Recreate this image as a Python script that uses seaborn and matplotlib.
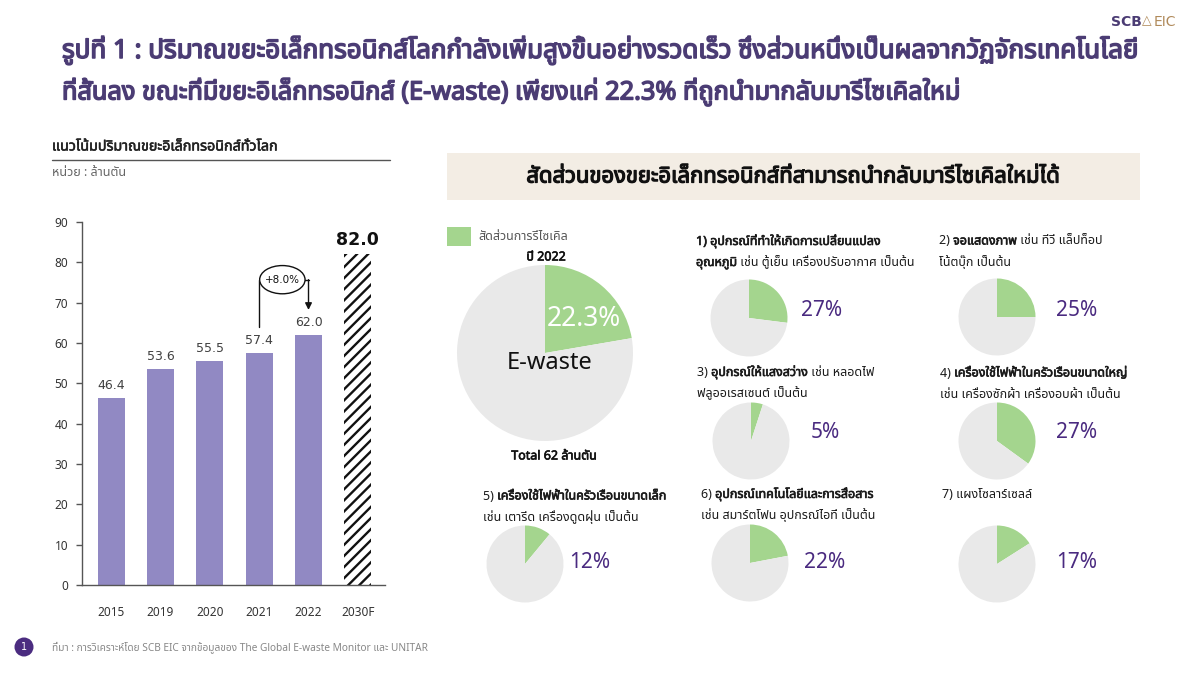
import numpy as np
import pandas as pd
import seaborn as sns
import matplotlib
matplotlib.use("Agg")
import matplotlib.pyplot as plt
import matplotlib.patheffects as pe
from matplotlib import font_manager
from matplotlib.ft2font import FT2Font
from matplotlib.patches import Ellipse, Rectangle
from matplotlib.lines import Line2D

# ---------------- data ----------------
years = ["2015", "2019", "2020", "2021", "2022", "2030F"]
ewaste = [46.4, 53.6, 55.5, 57.4, 62.0, 82.0]
main_share = 22.3
main_total = 62

cat_titles = [
    [[("1) อุปกรณ์ที่ทำให้เกิดการเปลี่ยนแปลง", True)],
     [("อุณหภูมิ", True), (" เช่น ตู้เย็น เครื่องปรับอากาศ เป็นต้น", False)]],
    [[("2) ", False), ("จอแสดงภาพ", True), (" เช่น ทีวี แล็ปท็อป", False)],
     [("โน้ตบุ๊ก เป็นต้น", False)]],
    [[("3) ", False), ("อุปกรณ์ให้แสงสว่าง", True), (" เช่น หลอดไฟ", False)],
     [("ฟลูออเรสเซนต์ เป็นต้น", False)]],
    [[("4) ", False), ("เครื่องใช้ไฟฟ้าในครัวเรือนขนาดใหญ่", True)],
     [("เช่น เครื่องซักผ้า เครื่องอบผ้า เป็นต้น", False)]],
    [[("5) ", False), ("เครื่องใช้ไฟฟ้าในครัวเรือนขนาดเล็ก", True)],
     [("เช่น เตารีด เครื่องดูดฝุ่น เป็นต้น", False)]],
    [[("6) ", False), ("อุปกรณ์เทคโนโลยีและการสื่อสาร", True)],
     [("เช่น สมาร์ตโฟน อุปกรณ์ไอที เป็นต้น", False)]],
    [[("7) แผงโซลาร์เซลล์", False)]],
]
cat_labels = ["27%", "25%", "5%", "27%", "12%", "22%", "17%"]
cat_shares = [27, 25, 5, 35, 11, 22, 16]   # wedge sizes as drawn

title_lines = ["รูปที่ 1 : ปริมาณขยะอิเล็กทรอนิกส์โลกกำลังเพิ่มสูงขึ้นอย่างรวดเร็ว ซึ่งส่วนหนึ่งเป็นผลจากวัฏจักรเทคโนโลยี",
               "ที่สั้นลง ขณะที่มีขยะอิเล็กทรอนิกส์ (E-waste) เพียงแค่ 22.3% ที่ถูกนำมากลับมารีไซเคิลใหม่"]
left_title = "แนวโน้มปริมาณขยะอิเล็กทรอนิกส์ทั่วโลก"
left_unit = "หน่วย : ล้านตัน"
right_header = "สัดส่วนของขยะอิเล็กทรอนิกส์ที่สามารถนำกลับมารีไซเคิลใหม่ได้"
legend_label = "สัดส่วนการรีไซเคิล"
source_text = "ที่มา : การวิเคราะห์โดย SCB EIC จากข้อมูลของ The Global E-waste Monitor และ UNITAR"

# ---------------- fonts ----------------
def find_thai_family():
    prefs = ["Noto Sans Thai", "Noto Sans Thai UI", "Sarabun", "Kanit", "Prompt",
             "Loma", "Garuda", "Waree", "Umpush", "Kinnari", "Norasi", "Tlwg Typo"]
    found = []
    for f in font_manager.fontManager.ttflist:
        try:
            cm = FT2Font(f.fname).get_charmap()
            if 0x0E01 in cm and 0x0E33 in cm and 0x0E48 in cm:
                found.append(f.name)
        except Exception:
            pass
    for p in prefs:
        if p in found:
            return p
    return found[0] if found else None

sns.set_theme(style="white")
thai = find_thai_family()
fam = ([thai] if thai else []) + ["DejaVu Sans"]
plt.rcParams["font.family"] = fam
plt.rcParams["hatch.linewidth"] = 1.7

W, H = 1200, 675
fig = plt.figure(figsize=(12, 6.75), dpi=100, facecolor="white")
renderer = fig.canvas.get_renderer()

PURPLE = "#4B3C74"
PCT = "#4A2A80"
BAR = "#9189C3"
GREEN = "#A4D58E"
GREY = "#E9E9E9"

def fx(x):
    return x / W

def fy(y):
    return 1 - y / H

def bold_fx(color, w=0.9):
    return [pe.withStroke(linewidth=w, foreground=color)]

def txt(x, y, s, bold=False, bw=0.9, **kw):
    kw.setdefault("va", "center")
    t = fig.text(fx(x), fy(y), s, **kw)
    if bold:
        t.set_fontweight("bold")
        t.set_path_effects(bold_fx(kw.get("color", "black"), bw))
    return t

def fit(x, y, s, target_w, size0, **kw):
    t = txt(x, y, s, fontsize=size0, **kw)
    w = t.get_window_extent(renderer).width
    if w > 0:
        t.set_fontsize(float(np.clip(size0 * target_w / w, size0 * 0.7, size0 * 1.35)))
    return t

def segs(x, y, parts, size, color="#1a1a1a"):
    cur = x
    for s, b in parts:
        t = txt(cur, y, s, bold=b, bw=0.45, fontsize=size, color=color, ha="left")
        cur += t.get_window_extent(renderer).width

# ---------------- title / logo ----------------
fit(62, 50, title_lines[0], 1075, 19, color=PURPLE, bold=True, bw=1.1)
fit(62, 92, title_lines[1], 898, 19, color=PURPLE, bold=True, bw=1.1)
txt(1111, 22, "SCB", fontsize=10, color=PURPLE, fontweight="bold", family="DejaVu Sans")
txt(1142, 21, "△", fontsize=9, color="#B08A5A", family="DejaVu Sans")
txt(1154, 22, "EIC", fontsize=10, color="#B08A5A", family="DejaVu Sans")

# ---------------- left bar chart ----------------
fit(52, 147, left_title, 225, 10, color="#222222", bold=True, bw=0.4)
fig.add_artist(Line2D([fx(52), fx(390)], [fy(160), fy(160)], color="#555555", lw=1,
                      transform=fig.transFigure))
fit(52, 172, left_unit, 74, 8, color="#666666")

ax = fig.add_axes([fx(82), fy(585), fx(385) - fx(82), fy(222) - fy(585)])
df = pd.DataFrame({"year": years, "value": ewaste})
sns.barplot(data=df, x="year", y="value", color=BAR, saturation=1, width=0.55,
            ax=ax, linewidth=0)
last = ax.patches[len(years) - 1]
last.set_facecolor("white")
last.set_edgecolor("#111111")
last.set_hatch("///")
last.set_linewidth(0)
ax.set_xlim(-0.59, 5.55)
ax.set_ylim(0, 90)
ax.set_yticks(range(0, 91, 10))
ax.set_xlabel("")
ax.set_ylabel("")
for s in ["top", "right"]:
    ax.spines[s].set_visible(False)
for s in ["left", "bottom"]:
    ax.spines[s].set_color("#555555")
    ax.spines[s].set_linewidth(1)
ax.tick_params(axis="y", left=True, length=4, width=1, color="#555555",
               labelsize=8.5, labelcolor="#333333", pad=6)
ax.tick_params(axis="x", bottom=False, labelsize=8.5, labelcolor="#333333", pad=9)
ax.set_facecolor("white")
for i, v in enumerate(ewaste):
    if i == len(ewaste) - 1:
        ax.text(i, v + 3.6, f"{v:.1f}", ha="center", va="center", fontsize=12.5,
                fontweight="bold", color="#111111", family="DejaVu Sans")
    else:
        ax.text(i, v + 3.1, f"{v:.1f}", ha="center", va="center", fontsize=9,
                color="#404040", family="DejaVu Sans")

# growth annotation 2021 -> 2022
i0, i1 = 3, 4
growth = (ewaste[i1] / ewaste[i0] - 1) * 100
ytop = ewaste[i1] + 13.7
ax.plot([i0, i0, i1], [ewaste[i0] + 6.5, ytop, ytop], color="#111111", lw=1)
ax.annotate("", xy=(i1, ewaste[i1] + 6.2), xytext=(i1, ytop),
            arrowprops=dict(arrowstyle="-|>", color="#111111", lw=1, mutation_scale=10,
                            shrinkA=0, shrinkB=0))
ax.add_patch(Ellipse(((i0 + i1) / 2 - 0.03, ytop), 0.92, 7.0, facecolor="white",
                     edgecolor="#111111", lw=1, zorder=5))
ax.text((i0 + i1) / 2 - 0.03, ytop, f"+{growth:.1f}%", ha="center", va="center",
        fontsize=7.5, color="#111111", zorder=6, family="DejaVu Sans")

# ---------------- right panel ----------------
fig.add_artist(Rectangle((fx(447), fy(200)), fx(1140) - fx(447), fy(153) - fy(200),
                         transform=fig.transFigure, facecolor="#F3EDE4", edgecolor="none"))
hdr = txt(793, 177, right_header, bold=True, bw=0.9, fontsize=15, color="#111111", ha="center")
w = hdr.get_window_extent(renderer).width
if w > 0:
    hdr.set_fontsize(float(np.clip(15 * 533 / w, 11, 20)))

fig.add_artist(Rectangle((fx(447), fy(246)), fx(471) - fx(447), fy(227) - fy(246),
                         transform=fig.transFigure, facecolor=GREEN, edgecolor="none"))
txt(478, 237, legend_label, fontsize=9, color="#555555")
txt(546, 257, "ปี 2022", bold=True, bw=0.45, fontsize=9, color="#111111", ha="center")


def add_pie(cx, cy, r, share):
    a = fig.add_axes([fx(cx - r), fy(cy + r), 2 * r / W, 2 * r / H])
    a.pie([share, 100 - share], colors=[GREEN, GREY], startangle=90, counterclock=False,
          radius=1, wedgeprops=dict(linewidth=0))
    a.set_xlim(-1, 1)
    a.set_ylim(-1, 1)
    a.set_aspect("equal")
    a.axis("off")
    return a

add_pie(545, 353, 88, main_share)
txt(584, 319, f"{main_share:.1f}%", fontsize=19, color="white", ha="center")
txt(550, 363, "E-waste", fontsize=17, color="#111111", ha="center")
txt(554, 456, f"Total {main_total} ล้านตัน", bold=True, bw=0.45, fontsize=9,
    color="#111111", ha="center")

# small pies: (caption x, caption y1, pie cx, pie cy, pct x, pct y)
small_layout = [
    (696, 241, 749, 318, 822, 310),
    (939, 241, 997, 317, 1077, 310),
    (697, 372, 751, 441, 825, 433),
    (940, 373, 997, 441, 1077, 433),
    (483, 496, 525, 564, 590, 562),
    (701, 494, 750, 563, 825, 562),
    (942, 494, 997, 564, 1077, 562),
]
cap_size = 9.0
for k, (tx, ty, cx, cy, px, py) in enumerate(small_layout):
    for j, line in enumerate(cat_titles[k]):
        segs(tx, ty + 21.5 * j, line, cap_size)
    add_pie(cx, cy, 38.5, cat_shares[k])
    txt(px, py, cat_labels[k], fontsize=15, color=PCT, ha="center")

# ---------------- footer ----------------
fig.add_artist(Ellipse((fx(24), fy(647)), 19 / W, 19 / H, transform=fig.transFigure,
                       facecolor="#4B2C80", edgecolor="none"))
txt(24, 647, "1", fontsize=7, color="white", ha="center", family="DejaVu Sans")
fit(52, 647, source_text, 376, 7, color="#888888")

fig.savefig("out.png", dpi=100, facecolor="white")
